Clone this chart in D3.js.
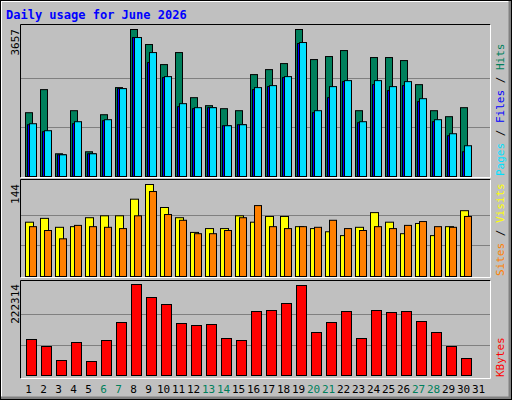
<!DOCTYPE html><html><head><meta charset="utf-8">
<script src="https://cdn.jsdelivr.net/npm/d3@7"></script>
<style>body{margin:0;background:#fff}</style></head><body><script>
const days=d3.range(1,32).map(String);
const weekend=["6","7","13","14","20","21","27","28"];
const hits=[1587,2161,565,1637,615,1537,2211,3657,3283,2784,3083,1961,1762,1687,1637,2535,2659,2809,3657,2909,2984,3133,1637,2959,2959,2884,2285,1637,1488,1712];
const files=[1288,1114,540,1313,565,1388,2186,3457,2834,2460,1737,1687,1712,1263,1288,2161,2236,2460,3308,1587,1961,2360,1338,2285,2136,2260,1862,1363,1014,615];
const pages=[1313,1139,540,1363,565,1413,2186,3457,3083,2485,1812,1712,1712,1263,1288,2211,2261,2485,3333,1637,2236,2385,1363,2385,2236,2360,1936,1413,1064,765];
const sites=[85,91,77,78,92,95,95,121,144,108,92,69,75,75,95,85,94,94,78,75,70,64,77,100,85,67,83,64,78,103];
const visits=[78,72,59,80,78,77,75,95,133,97,88,67,67,72,92,111,78,75,78,77,88,75,72,78,75,80,86,78,77,94];
const kbytes=[87950,70840,36640,80620,34200,85500,129470,222314,190550,173450,127030,122150,124590,90390,85500,156350,158790,175890,219870,105050,129470,156350,90390,158790,153900,156350,131920,105050,70840,41530];
const maxHits=3657,maxSites=144,maxK=222314;

const W=512,H=400,font="'DejaVu Sans Mono',monospace";
const svg=d3.select("body").append("svg").attr("width",W).attr("height",H).style("display","block");
svg.append("rect").attr("width",W).attr("height",H).attr("fill","#c0c0c0");
// bevel
svg.append("path").attr("d","M1,399V1H511").attr("stroke","#fff").attr("fill","none").attr("stroke-width",2);
svg.append("path").attr("d","M1,398H510V1").attr("stroke","#808080").attr("fill","none").attr("stroke-width",3);
svg.append("rect").attr("x",0.5).attr("y",0.5).attr("width",W-1).attr("height",H-1).attr("fill","none").attr("stroke","#000");
svg.append("text").attr("x",6).attr("y",19).text("Daily usage for June 2026").attr("fill","#0000ff").attr("font-family",font).attr("font-weight","bold").attr("font-size",12);

const x=d3.scaleBand().domain(days).range([20,485]).paddingInner(0);
function panel(y0,y1){
  svg.append("rect").attr("x",20.5).attr("y",y0+.5).attr("width",470).attr("height",y1-y0).attr("fill","#c0c0c0").attr("stroke","none");
  svg.append("path").attr("d",`M20.5,${y1+.5}V${y0+.5}H490.5`).attr("stroke","#000").attr("fill","none");
  svg.append("path").attr("d",`M20.5,${y1+.5}H490.5V${y0+.5}`).attr("stroke","#fff").attr("fill","none");
}
function grid(y,max,ticks){ticks.forEach(t=>svg.append("line").attr("x1",21).attr("x2",490).attr("y1",Math.round(y(t))+.5).attr("y2",Math.round(y(t))+.5).attr("stroke","#808080"));}
function bars(data,y,dx,w,fill){
  svg.append("g").selectAll("rect").data(data).join("rect")
   .attr("x",(d,i)=>x(days[i])+dx+.5).attr("width",w).attr("y",d=>y(d)+.5).attr("height",d=>y(0)-y(d))
   .attr("fill",fill).attr("stroke","#000").attr("stroke-width",1);
}
function vlabel(xp,yp,parts,anchor){
  const t=svg.append("text").attr("transform",`translate(${xp},${yp}) rotate(-90)`).attr("font-family",font).attr("font-size",11).attr("text-anchor",anchor);
  parts.forEach(p=>t.append("tspan").text(p[0]).attr("fill",p[1]));
}
// top
panel(24,177);
const y1=d3.scaleLinear().domain([0,maxHits]).range([176,29]);
grid(y1,maxHits,[maxHits/3,maxHits*2/3]);
bars(hits,y1,5,7,"#00805c");
bars(files,y1,7,8,"#0000ff");
bars(pages,y1,9,7,"#00e0ff");
vlabel(19,29,[[String(maxHits),"#000"]],"end");
vlabel(504,176,[["Pages","#00e0ff"],[" / ","#000"],["Files","#0000ff"],[" / ","#000"],["Hits","#00805c"]],"start");
// middle
panel(179,277);
const y2=d3.scaleLinear().domain([0,maxSites]).range([276,184]);
grid(y2,maxSites,[maxSites/3,maxSites*2/3]);
bars(sites,y2,5,8,"#ffff00");
bars(visits,y2,9,7,"#ff8000");
vlabel(19,184,[[String(maxSites),"#000"]],"end");
vlabel(504,276,[["Sites","#ff8000"],[" / ","#000"],["Visits","#ffff00"]],"start");
// bottom
panel(280,378);
const y3=d3.scaleLinear().domain([0,maxK]).range([375,284]);
grid(y3,maxK,[maxK/3,maxK*2/3]);
bars(kbytes,y3,6,10,"#ff0000");
vlabel(19,284,[[String(maxK),"#000"]],"end");
vlabel(504,377,[["KBytes","#ff0000"]],"start");
// day labels
svg.append("g").selectAll("text").data(days).join("text")
 .attr("x",d=>x(d)+x.bandwidth()/2+1).attr("y",393).attr("text-anchor","middle")
 .attr("font-family",font).attr("font-size",11).attr("fill",d=>weekend.includes(d)?"#00805c":"#000").text(d=>d);
</script></body></html>
